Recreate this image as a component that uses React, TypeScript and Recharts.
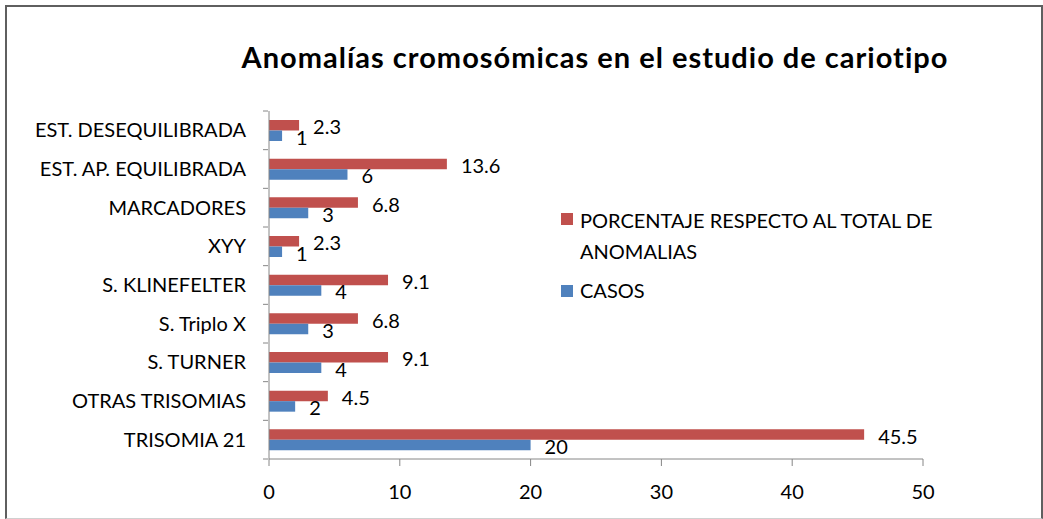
import { Bar, BarChart, LabelList, XAxis, YAxis } from "recharts"

const categories = [
  "EST. DESEQUILIBRADA",
  "EST. AP. EQUILIBRADA",
  "MARCADORES",
  "XYY",
  "S. KLINEFELTER",
  "S. Triplo X",
  "S. TURNER",
  "OTRAS TRISOMIAS",
  "TRISOMIA 21",
]
const porcentaje = [2.3, 13.6, 6.8, 2.3, 9.1, 6.8, 9.1, 4.5, 45.5]
const casos = [1, 6, 3, 1, 4, 3, 4, 2, 20]
const xTicks = [0, 10, 20, 30, 40, 50]

const RED = "#C0504D"
const BLUE = "#4F81BD"
const AXIS = "#868686"
const FONT = "Lato, 'Open Sans', sans-serif"

const W = 1043
const H = 519
const Y_AXIS_W = 269
const X_AXIS_H = 30
const MARGIN = { top: 111, right: 120, bottom: 60 - X_AXIS_H, left: 0 }
const BAND = (H - MARGIN.top - MARGIN.bottom - X_AXIS_H) / categories.length

const data = categories.map((name, i) => ({
  name,
  pct: porcentaje[i],
  casos: casos[i],
}))

// category ticks sit between the bands, like Excel
function CategoryTick(props: any) {
  const { x, y, payload, index } = props
  return (
    <g>
      <line x1={x + 2} x2={x + 7} y1={y - BAND / 2} y2={y - BAND / 2} stroke={AXIS} />
      {index === categories.length - 1 && (
        <line x1={x + 2} x2={x + 7} y1={y + BAND / 2} y2={y + BAND / 2} stroke={AXIS} />
      )}
      <text x={x - 15} y={y + 7} textAnchor="end" fontSize={20} fill="#000" fontFamily={FONT}>
        {payload.value}
      </text>
    </g>
  )
}

function NumberTick(props: any) {
  const { x, y, payload } = props
  return (
    <text x={x} y={y + 31} textAnchor="middle" fontSize={20} fill="#000" fontFamily={FONT}>
      {payload.value}
    </text>
  )
}

function ValueLabel(props: any) {
  const { x, y, width, height, value } = props
  return (
    <text x={x + width + 14} y={y + height / 2 + 9} fontSize={20} fill="#000" fontFamily={FONT}>
      {value}
    </text>
  )
}

function ChartLegend() {
  return (
    <svg
      width={W}
      height={H}
      style={{ position: "absolute", left: 0, top: 0, pointerEvents: "none" }}
      fontFamily={FONT}
      fontSize={20}
    >
      <rect x={561} y={213} width={12} height={12} fill={RED} />
      <text x={580} y={228}>PORCENTAJE RESPECTO AL TOTAL DE</text>
      <text x={580} y={259}>ANOMALIAS</text>
      <rect x={561} y={285} width={12} height={12} fill={BLUE} />
      <text x={580} y={298}>CASOS</text>
    </svg>
  )
}

export default function App() {
  return (
    <div style={{ position: "fixed", left: 0, top: 0, width: W, height: H, background: "#fff" }}>
      <div
        style={{
          position: "absolute",
          left: 5,
          top: 5,
          width: 1034,
          height: 511,
          borderLeft: "2px solid #5f5f5f",
          borderTop: "2px solid #5f5f5f",
          borderRight: "2px solid #5f5f5f",
          borderBottom: "1px solid #d0d0d0",
        }}
      />
      <div
        style={{
          position: "absolute",
          left: 200,
          width: 790,
          top: 39,
          textAlign: "center",
          fontFamily: FONT,
          fontWeight: 700,
          fontSize: 29,
          letterSpacing: 1,
          color: "#000",
          whiteSpace: "nowrap",
        }}
      >
        Anomalías cromosómicas en el estudio de cariotipo
      </div>
      <div style={{ position: "absolute", left: 0, top: 0 }}>
        <BarChart
          width={W}
          height={H}
          data={data}
          layout="vertical"
          margin={MARGIN}
          barGap={0}
          barSize={10.5}
        >
          <XAxis
            type="number"
            domain={[0, 50]}
            ticks={xTicks}
            height={X_AXIS_H}
            stroke={AXIS}
            tickSize={7}
            tick={<NumberTick />}
          />
          <YAxis
            type="category"
            dataKey="name"
            width={Y_AXIS_W}
            stroke={AXIS}
            tickLine={false}
            interval={0}
            tick={<CategoryTick />}
          />
          <Bar dataKey="pct" fill={RED} isAnimationActive={false}>
            <LabelList dataKey="pct" content={<ValueLabel />} />
          </Bar>
          <Bar dataKey="casos" fill={BLUE} isAnimationActive={false}>
            <LabelList dataKey="casos" content={<ValueLabel />} />
          </Bar>
        </BarChart>
      </div>
      <ChartLegend />
    </div>
  )
}
